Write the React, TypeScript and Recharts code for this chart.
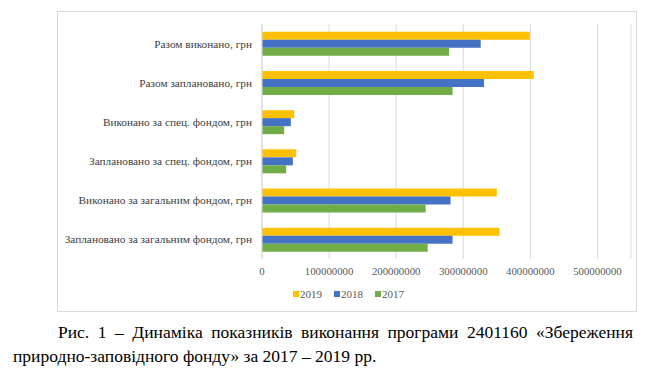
import React from "react";
import { BarChart, Bar, XAxis, YAxis, CartesianGrid, Legend } from "recharts";

const categories = [
  "Разом виконано, грн",
  "Разом заплановано, грн",
  "Виконано за спец. фондом, грн",
  "Заплановано за спец. фондом, грн",
  "Виконано за загальним фондом, грн",
  "Заплановано за загальним фондом, грн",
];
const values2019 = [399000000, 405000000, 48000000, 51000000, 350000000, 354000000];
const values2018 = [326000000, 331000000, 43000000, 46000000, 281000000, 284000000];
const values2017 = [279000000, 284000000, 33000000, 36000000, 244000000, 247000000];
const xTicks = [0, 100000000, 200000000, 300000000, 400000000, 500000000];
const seriesNames = ["2019", "2018", "2017"];
const colors = ["#FFC000", "#4472C4", "#70AD47"];

const data = categories.map((c, i) => ({
  name: c,
  "2019": values2019[i],
  "2018": values2018[i],
  "2017": values2017[i],
}));

const SERIF = "'Liberation Serif', 'Times New Roman', serif";

const LegendContent = (props: any) => {
  const payload = [...(props.payload || [])].sort(
    (a: any, b: any) => seriesNames.indexOf(String(a.value)) - seriesNames.indexOf(String(b.value))
  );
  return (
    <div style={{ display: "flex", justifyContent: "center", paddingLeft: 8, fontFamily: SERIF, fontSize: 11, color: "#595959", lineHeight: "14px" }}>
      {payload.map((p: any, i: number) => (
        <span key={i} style={{ display: "inline-flex", alignItems: "center", marginRight: i < payload.length - 1 ? 12 : 0 }}>
          <span style={{ display: "inline-block", width: 6, height: 6, background: p.color, marginRight: 1 }} />
          {p.value}
        </span>
      ))}
    </div>
  );
};

const CategoryTick = (props: any) => {
  const { x, y, payload } = props;
  return (
    <text x={x} y={y} textAnchor="end" dominantBaseline="central" fontFamily={SERIF} fontSize={11.3} fill="#404040">
      {payload.value}
    </text>
  );
};

export default function App() {
  return (
    <div style={{ position: "absolute", left: 0, top: 0, width: 650, height: 379, background: "#fff" }}>
      <div style={{ position: "absolute", left: 57, top: 11, width: 578, height: 299, border: "1px solid #d9d9d9" }}>
        <BarChart
          width={578}
          height={299}
          data={data}
          layout="vertical"
          margin={{ top: 12, right: 5, bottom: 18, left: 0 }}
          barCategoryGap="20%"
          barGap={0}
        >
          <CartesianGrid horizontal={false} stroke="#d9d9d9" />
          <XAxis
            type="number"
            domain={[0, 550000000]}
            ticks={xTicks}
            axisLine={false}
            tickLine={false}
            tick={{ fontFamily: SERIF, fontSize: 10.8, fill: "#595959" }}
            height={20}
            interval={0}
          />
          <YAxis
            type="category"
            dataKey="name"
            width={204}
            axisLine={{ stroke: "#d9d9d9" }}
            tickLine={false}
            tickMargin={4}
            tick={<CategoryTick />}
            interval={0}
          />
          <Legend verticalAlign="bottom" content={<LegendContent />} wrapperStyle={{ bottom: 10 }} />
          {seriesNames.map((s, i) => (
            <Bar key={s} dataKey={s} name={s} fill={colors[i]} isAnimationActive={false} />
          ))}
        </BarChart>
      </div>
      <div
        style={{
          position: "absolute",
          left: 58,
          top: 322,
          width: 575,
          fontFamily: SERIF,
          fontSize: 17.5,
          color: "#000",
          textAlign: "justify",
          textAlignLast: "justify",
          whiteSpace: "nowrap",
        }}
      >
        Рис. 1 – Динаміка показників виконання програми 2401160 «Збереження
      </div>
      <div
        style={{
          position: "absolute",
          left: 13,
          top: 346,
          fontFamily: SERIF,
          fontSize: 17.5,
          color: "#000",
          whiteSpace: "nowrap",
        }}
      >
        природно-заповідного фонду» за 2017 – 2019 рр.
      </div>
    </div>
  );
}
